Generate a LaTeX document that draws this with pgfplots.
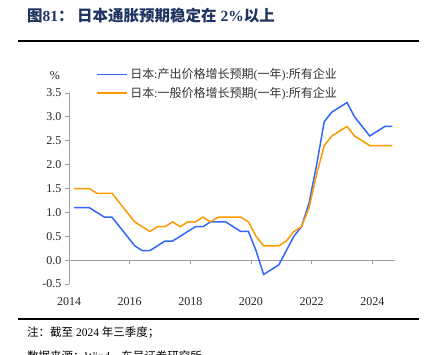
\documentclass[border=0pt]{standalone}
\usepackage{fontspec}
\setmainfont{Liberation Serif}
\newfontfamily\cjk{Noto Sans CJK SC}
\usepackage{pgfplots}
\pgfplotsset{compat=1.18}
\usepackage{pgfplotstable}
\definecolor{tblue}{RGB}{31,52,96}
\definecolor{sblue}{RGB}{51,102,255}
\definecolor{sorange}{RGB}{255,153,0}
\definecolor{axgray}{RGB}{160,160,160}
\pgfplotstableread{
x blue orange
2014.167 1.1 1.5
2014.417 1.1 1.5
2014.667 1.1 1.5
2014.917 1.0 1.4
2015.167 0.9 1.4
2015.417 0.9 1.4
2015.667 0.7 1.2
2015.917 0.5 1.0
2016.167 0.3 0.8
2016.417 0.2 0.7
2016.667 0.2 0.6
2016.917 0.3 0.7
2017.167 0.4 0.7
2017.417 0.4 0.8
2017.667 0.5 0.7
2017.917 0.6 0.8
2018.167 0.7 0.8
2018.417 0.7 0.9
2018.667 0.8 0.8
2018.917 0.8 0.9
2019.167 0.8 0.9
2019.417 0.7 0.9
2019.667 0.6 0.9
2019.917 0.6 0.8
2020.167 0.2 0.5
2020.417 -0.3 0.3
2020.667 -0.2 0.3
2020.917 -0.1 0.3
2021.167 0.2 0.4
2021.417 0.5 0.6
2021.667 0.7 0.7
2021.917 1.2 1.1
2022.167 2.0 1.8
2022.417 2.9 2.4
2022.667 3.1 2.6
2022.917 3.2 2.7
2023.167 3.3 2.8
2023.417 3.0 2.6
2023.667 2.8 2.5
2023.917 2.6 2.4
2024.167 2.7 2.4
2024.417 2.8 2.4
2024.667 2.8 2.4
}\datatable
\begin{document}
\begin{tikzpicture}[x=1pt,y=1pt]
\useasboundingbox (0,0) rectangle (434,354);
\node[anchor=west, text=tblue, inner sep=0pt] at (27,338)
  {\fontsize{15.5}{17}\selectfont\bfseries{\cjk\bfseries 图}81{\cjk\bfseries ：\ 日本通胀预期稳定在} 2\%{\cjk\bfseries 以上}};
\draw[line width=1.1pt] (18,313) -- (419,313);
\begin{axis}[
  at={(69pt,70pt)}, anchor=south west,
  width=326pt, height=191pt, scale only axis,
  xmin=2014, xmax=2024.75, ymin=-0.5, ymax=3.5,
  axis y line=left, axis x line=middle,
  hide obscured x ticks=false, hide obscured y ticks=false,
  axis line style={draw=axgray, line width=0.8pt, -},
  xtick={2014,2016,...,2024},
  ytick={-0.5,0,0.5,...,3.5},
  xticklabels={2014,2016,2018,2020,2022,2024},
  tick align=outside,
  major tick length=4pt,
  tick style={draw=axgray, line width=0.8pt},
  /pgf/number format/assume math mode=true,
  yticklabel={\pgfmathprintnumber[fixed,fixed zerofill,precision=1]{\tick}},
  ticklabel style={font=\fontsize{12}{14}\selectfont, text=black!85},
  x tick label style={yshift=-30pt},
  clip=false,
  legend style={at={(0.075,1.15)}, anchor=north west, draw=none, fill=none,
    font=\fontsize{12}{14}\selectfont, text=black!80, row sep=3pt},
  legend cell align=left,
  legend image code/.code={\draw[#1, line width=1.6pt] (0pt,0pt) -- (30pt,0pt);},
]
\addplot[sblue, line width=1.5pt] table[x=x, y=blue] {\datatable};
\addlegendentry{{\cjk 日本}:{\cjk 产出价格增长预期}({\cjk 一年}):{\cjk 所有企业}}
\addplot[sorange, line width=1.5pt] table[x=x, y=orange] {\datatable};
\addlegendentry{{\cjk 日本}:{\cjk 一般价格增长预期}({\cjk 一年}):{\cjk 所有企业}}
\node[font=\fontsize{12}{14}\selectfont, text=black!85] at (axis description cs:-0.043,1.089) {\%};
\end{axis}
\draw[line width=1.1pt] (18,35) -- (419,35);
\node[anchor=west, inner sep=0pt] at (27,21) {\fontsize{11.5}{13}\selectfont{\cjk 注：截至} 2024 {\cjk 年三季度；}};
\node[anchor=west, inner sep=0pt] at (27,-2) {\fontsize{11.5}{13}\selectfont{\cjk 数据来源：}Wind{\cjk ，东吴证券研究所}};
\end{tikzpicture}
\end{document}
